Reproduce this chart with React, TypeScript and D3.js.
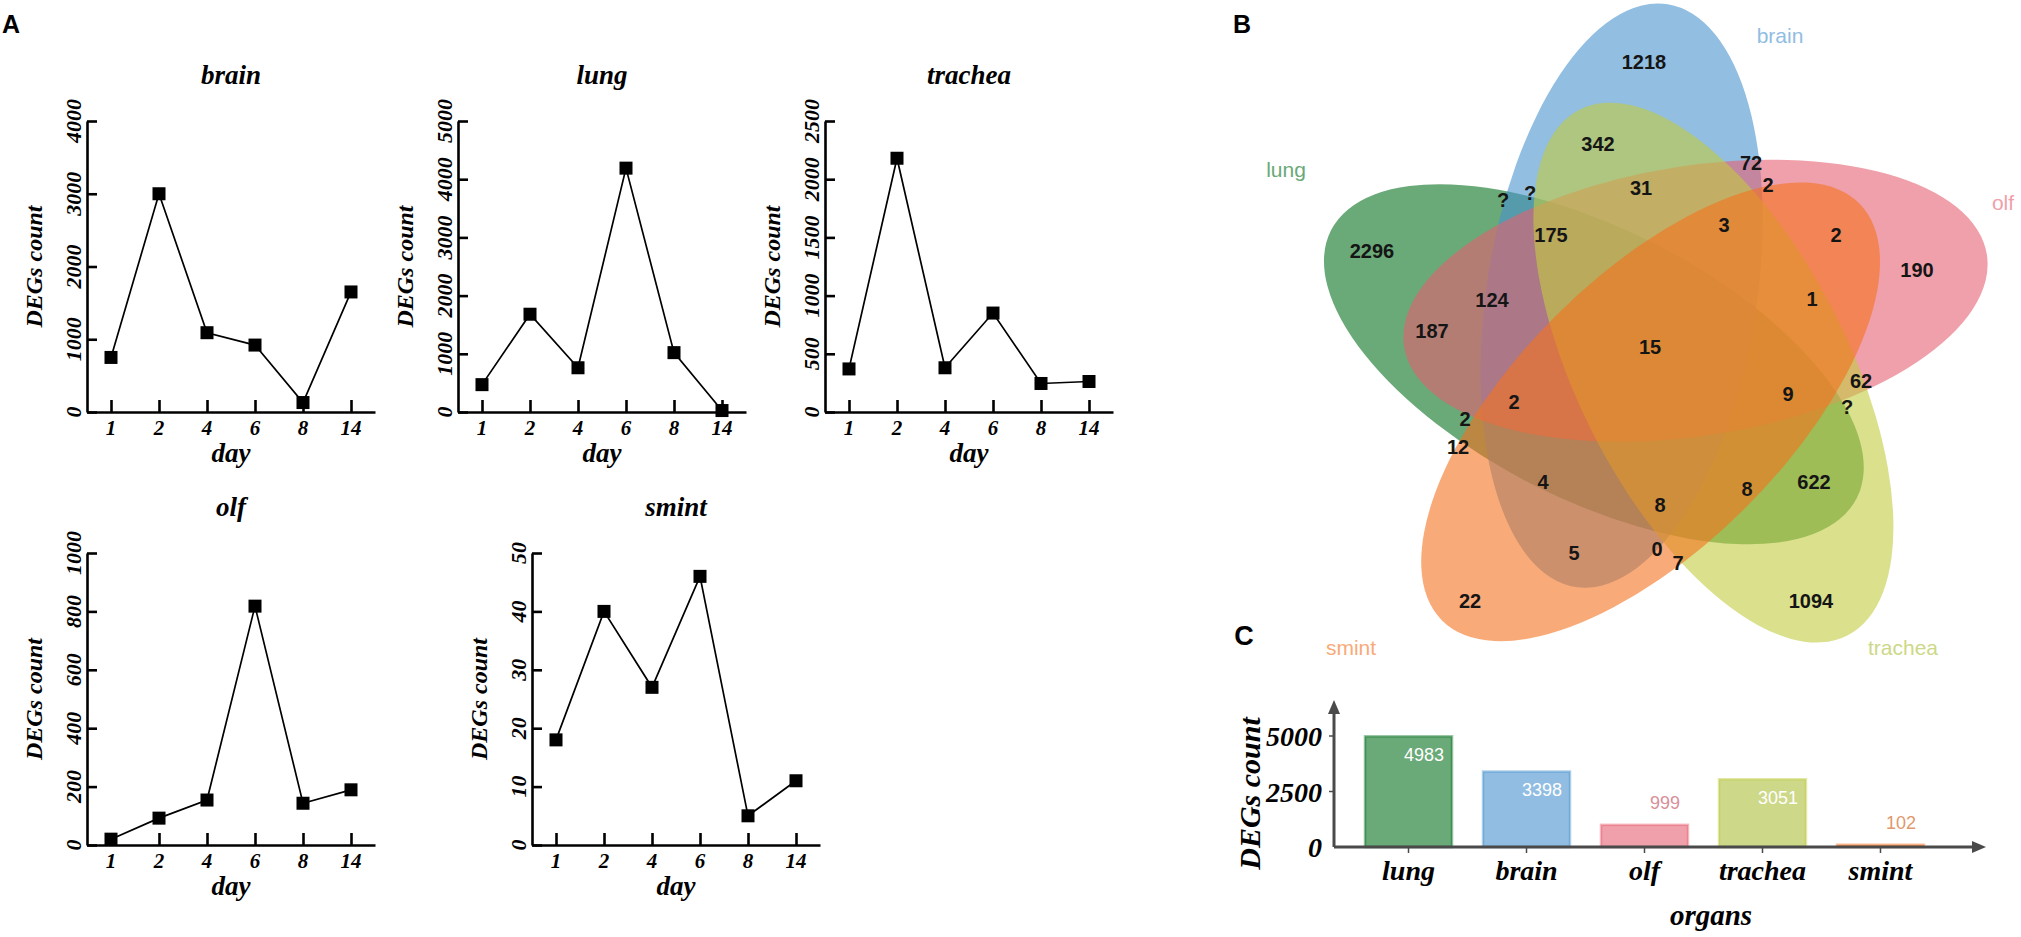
import { useEffect, useRef } from 'react';
import * as d3 from 'd3';

// Panel A: DEGs per day, one series per organ
const days = ['1', '2', '4', '6', '8', '14'];
const brainCounts = [750, 3000, 1090, 920, 130, 1650];
const lungCounts = [470, 1680, 760, 4190, 1020, 25];
const tracheaCounts = [370, 2180, 380, 850, 245, 262];
const olfCounts = [20, 92, 154, 818, 143, 189];
const smintCounts = [18, 40, 27, 46, 5, 11];

const brainTicks = [0, 1000, 2000, 3000, 4000];
const lungTicks = [0, 1000, 2000, 3000, 4000, 5000];
const tracheaTicks = [0, 500, 1000, 1500, 2000, 2500];
const olfTicks = [0, 200, 400, 600, 800, 1000];
const smintTicks = [0, 10, 20, 30, 40, 50];

// Panel B: five-set venn, region counts as printed
const vennSets = ['lung', 'brain', 'olf', 'trachea', 'smint'];
const vennRegionCounts = [
  '1218', '342', '72', '31', '2', '?', '?', '3', '2', '190', '175', '2296', '124', '1', '187', '15',
  '62', '9', '?', '2', '2', '12', '4', '622', '8', '8', '5', '0', '7', '22', '1094',
];

// Panel C: total DEGs per organ
const organs = ['lung', 'brain', 'olf', 'trachea', 'smint'];
const organTotals = [4983, 3398, 999, 3051, 102];
const totalTicks = [0, 2500, 5000];

const SERIF = "'Liberation Serif', 'Times New Roman', Times, serif";
const SANS = "'Liberation Sans', Arial, Helvetica, sans-serif";

const setColors: Record<string, string> = {
  lung: '#07701e', brain: '#4893cd', olf: '#e66171', trachea: '#c1cb3f', smint: '#f3711e',
};
const setTints: Record<string, string> = {
  lung: '#6aa978', brain: '#91bde2', olf: '#f0a0aa', trachea: '#cdd888', smint: '#f8aa78',
};

// venn layout: ellipses are rotated copies around a common centre
const venn = { cx: 1655, cy: 349, offset: 63, rx: 295, ry: 135, tilt: 41 };
const vennAngles: Record<string, number> = { brain: -122, olf: -50, trachea: 22, smint: 94, lung: 166 };
// where the region numbers sit, relative to the venn centre
const vennLabelAt = [
  [-11, -287], [-57, -205], [96, -186], [-14, -161], [113, -164], [-152, -149], [-125, -156],
  [69, -124], [181, -114], [262, -79], [-104, -114], [-283, -98], [-163, -49], [157, -50],
  [-223, -18], [-5, -2], [206, 32], [133, 45], [192, 58], [-141, 53], [-190, 70], [-197, 98],
  [-112, 133], [159, 133], [92, 140], [5, 156], [-81, 204], [2, 200], [23, 214], [-185, 252],
  [156, 252],
];
const vennNameAt: Record<string, [number, number]> = {
  lung: [-369, -172], brain: [125, -306], olf: [348, -139], trachea: [248, 306], smint: [-304, 306],
};

const linePanels = [
  { title: 'brain', values: brainCounts, ticks: brainTicks, x0: 87, top: 121, bottom: 412 },
  { title: 'lung', values: lungCounts, ticks: lungTicks, x0: 458, top: 121, bottom: 412 },
  { title: 'trachea', values: tracheaCounts, ticks: tracheaTicks, x0: 825, top: 121, bottom: 412 },
  { title: 'olf', values: olfCounts, ticks: olfTicks, x0: 87, top: 553, bottom: 845 },
  { title: 'smint', values: smintCounts, ticks: smintTicks, x0: 532, top: 553, bottom: 845 },
];

type Sel = d3.Selection<SVGGElement, unknown, null, undefined>;

function serifText(g: Sel, size: number) {
  return g.append('text')
    .attr('font-family', SERIF)
    .attr('font-weight', 'bold')
    .attr('font-style', 'italic')
    .attr('font-size', size)
    .attr('fill', '#000');
}

function drawLinePanel(root: Sel, p: typeof linePanels[number]) {
  const width = 288;
  const x = d3.scalePoint<string>().domain(days).range([p.x0, p.x0 + width]).padding(0.5);
  const y = d3.scaleLinear().domain([0, p.ticks[p.ticks.length - 1]]).range([p.bottom, p.top]);
  const g = root.append('g');

  // x axis, ticks pointing up into the plot
  const xa = g.append('g')
    .attr('transform', `translate(0,${p.bottom})`)
    .call(d3.axisTop(x).tickSize(12).tickSizeOuter(0).tickFormat(() => ''));
  xa.selectAll('text').remove();

  // y axis, ticks pointing right into the plot
  const ya = g.append('g')
    .attr('transform', `translate(${p.x0},0)`)
    .call(d3.axisRight(y).tickValues(p.ticks).tickSize(10).tickSizeOuter(0).tickFormat(() => ''));
  ya.selectAll('text').remove();

  g.selectAll('.domain, .tick line').attr('stroke', '#000').attr('stroke-width', 2.6);

  days.forEach(d => {
    serifText(g, 21).attr('x', x(d)!).attr('y', p.bottom + 23).attr('text-anchor', 'middle').text(d);
  });
  p.ticks.forEach(t => {
    serifText(g, 22)
      .attr('transform', `translate(${p.x0 - 6},${y(t)}) rotate(-90)`)
      .attr('text-anchor', 'middle')
      .text(String(t));
  });

  serifText(g, 24)
    .attr('transform', `translate(${p.x0 - 45},${(p.top + p.bottom) / 2}) rotate(-90)`)
    .attr('text-anchor', 'middle')
    .text('DEGs count');
  serifText(g, 27).attr('x', p.x0 + width / 2).attr('y', p.top - 37).attr('text-anchor', 'middle').text(p.title);
  serifText(g, 27).attr('x', p.x0 + width / 2).attr('y', p.bottom + 50).attr('text-anchor', 'middle').text('day');

  const line = d3.line<number>()
    .x((_, i) => x(days[i])!)
    .y(v => y(v));
  g.append('path')
    .datum(p.values)
    .attr('fill', 'none')
    .attr('stroke', '#000')
    .attr('stroke-width', 1.7)
    .attr('d', line);

  const s = 13;
  g.selectAll('rect.pt')
    .data(p.values)
    .join('rect')
    .attr('class', 'pt')
    .attr('x', (_, i) => x(days[i])! - s / 2)
    .attr('y', v => y(v) - s / 2)
    .attr('width', s)
    .attr('height', s)
    .attr('fill', '#000');
}

function drawVenn(root: Sel) {
  const g = root.append('g').attr('transform', `translate(${venn.cx},${venn.cy})`);
  const rad = Math.PI / 180;

  vennSets.forEach(name => {
    const a = vennAngles[name];
    const cx = venn.offset * Math.cos(a * rad);
    const cy = venn.offset * Math.sin(a * rad);
    g.append('ellipse')
      .attr('cx', cx)
      .attr('cy', cy)
      .attr('rx', venn.rx)
      .attr('ry', venn.ry)
      .attr('transform', `rotate(${a + venn.tilt},${cx},${cy})`)
      .attr('fill', setColors[name])
      .attr('fill-opacity', 0.6);
  });

  vennRegionCounts.forEach((c, i) => {
    g.append('text')
      .attr('x', vennLabelAt[i][0])
      .attr('y', vennLabelAt[i][1])
      .attr('dy', '0.36em')
      .attr('text-anchor', 'middle')
      .attr('font-family', SANS)
      .attr('font-weight', 'bold')
      .attr('font-size', 20)
      .attr('fill', '#151515')
      .text(c);
  });

  vennSets.forEach(name => {
    g.append('text')
      .attr('x', vennNameAt[name][0])
      .attr('y', vennNameAt[name][1])
      .attr('text-anchor', 'middle')
      .attr('font-family', SANS)
      .attr('font-size', 21)
      .attr('fill', setTints[name])
      .text(name);
  });
}

function drawBars(root: Sel) {
  const g = root.append('g');
  const x = d3.scaleBand<string>().domain(organs).range([1334, 1955]).padding(0.263);
  const y = d3.scaleLinear().domain([0, 5000]).range([847, 736]);
  const [x0, x1] = x.range();
  const y0 = y(0);
  const axisColor = '#4a4a4a';

  g.selectAll('rect.bar')
    .data(organTotals)
    .join('rect')
    .attr('class', 'bar')
    .attr('x', (_, i) => x(organs[i])!)
    .attr('y', v => y(v))
    .attr('width', x.bandwidth())
    .attr('height', v => y0 - y(v))
    .attr('fill', (_, i) => setTints[organs[i]])
    .attr('stroke', (_, i) => setColors[organs[i]])
    .attr('stroke-opacity', 0.45)
    .attr('stroke-width', 2.5);

  organTotals.forEach((v, i) => {
    const inside = v > 2000;
    g.append('text')
      .attr('x', x(organs[i])! + x.bandwidth() - 8)
      .attr('y', inside ? y(v) + 18 : y(v) - 22)
      .attr('dy', '0.36em')
      .attr('text-anchor', 'end')
      .attr('font-family', SANS)
      .attr('font-size', 18)
      .attr('fill', inside ? '#ffffff' : d3.color(setTints[organs[i]])!.darker(0.3).formatHex())
      .text(String(v));
  });

  // axes with arrow heads
  const yTop = y(5000) - 36;
  const xEnd = x1 + 31;
  g.append('line').attr('x1', x0).attr('x2', x0).attr('y1', y0).attr('y2', yTop + 12)
    .attr('stroke', axisColor).attr('stroke-width', 3);
  g.append('path').attr('d', `M${x0},${yTop}L${x0 - 6},${yTop + 14}L${x0 + 6},${yTop + 14}Z`).attr('fill', axisColor);
  g.append('line').attr('x1', x0).attr('x2', xEnd - 12).attr('y1', y0).attr('y2', y0)
    .attr('stroke', axisColor).attr('stroke-width', 3);
  g.append('path').attr('d', `M${xEnd},${y0}L${xEnd - 14},${y0 - 6}L${xEnd - 14},${y0 + 6}Z`).attr('fill', axisColor);

  totalTicks.filter(t => t > 0).forEach(t => {
    g.append('line').attr('x1', x0 - 5).attr('x2', x0).attr('y1', y(t)).attr('y2', y(t))
      .attr('stroke', axisColor).attr('stroke-width', 1.5);
  });
  organs.forEach(o => {
    const cx = x(o)! + x.bandwidth() / 2;
    g.append('line').attr('x1', cx).attr('x2', cx).attr('y1', y0).attr('y2', y0 + 6)
      .attr('stroke', axisColor).attr('stroke-width', 1.5);
    serifText(g, 28).attr('x', cx).attr('y', y0 + 33).attr('text-anchor', 'middle').text(o);
  });
  totalTicks.forEach(t => {
    serifText(g, 28).attr('x', x0 - 12).attr('y', y(t)).attr('dy', '0.36em').attr('text-anchor', 'end').text(String(t));
  });

  serifText(g, 30)
    .attr('transform', `translate(${x0 - 74},${y(2500) + 2}) rotate(-90)`)
    .attr('text-anchor', 'middle')
    .text('DEGs count');
  serifText(g, 29).attr('x', 1711).attr('y', 925).attr('text-anchor', 'middle').text('organs');
}

export default function App() {
  const svgRef = useRef<SVGSVGElement>(null);

  useEffect(() => {
    if (!svgRef.current) return;
    const svg = d3.select(svgRef.current);
    svg.selectAll('*').remove();
    const root = svg.append('g') as unknown as Sel;

    linePanels.forEach(p => drawLinePanel(root, p));
    drawVenn(root);
    drawBars(root);

    // panel letters
    const letter = (txt: string, x: number, y: number, size: number) =>
      root.append('text')
        .attr('x', x).attr('y', y)
        .attr('text-anchor', 'middle')
        .attr('font-family', SANS)
        .attr('font-weight', 'bold')
        .attr('font-size', size)
        .attr('fill', '#000')
        .text(txt);
    letter('A', 11, 33, 25);
    letter('B', 1242, 33, 25);
    letter('C', 1244, 645, 27);
  }, []);

  return (
    <svg
      ref={svgRef}
      width={2021}
      height={937}
      style={{ position: 'absolute', left: 0, top: 0, background: '#fff' }}
    />
  );
}
